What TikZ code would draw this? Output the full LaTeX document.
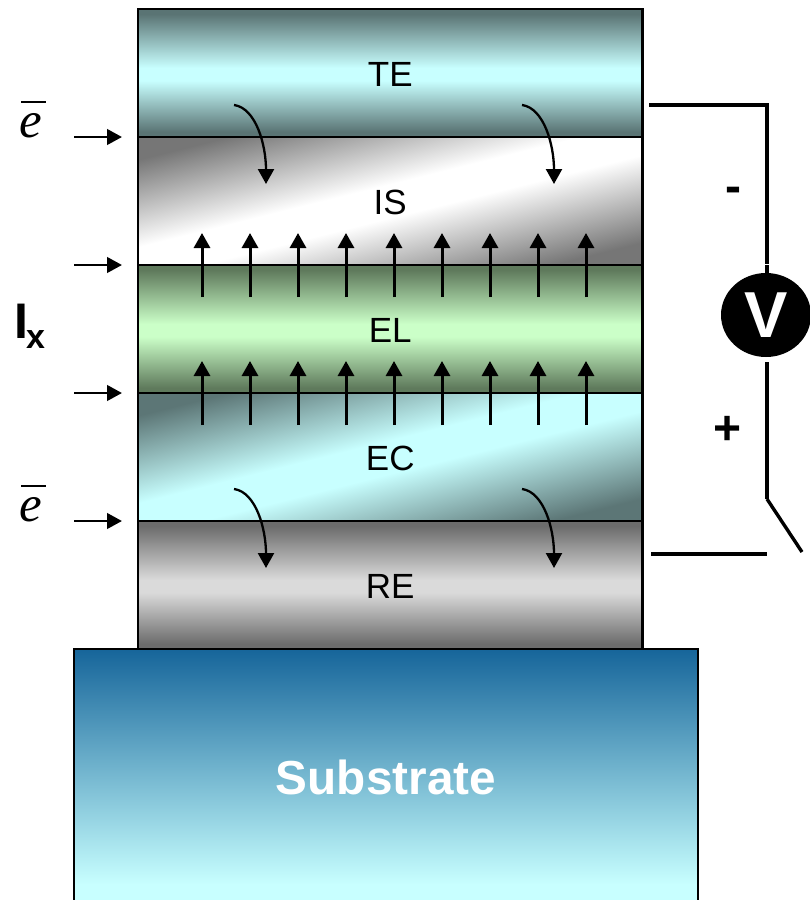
\documentclass[tikz,border=0pt]{standalone}
\usepackage{fontspec}
\setmainfont{Liberation Sans}
\newfontfamily\timesit{Liberation Serif}
\usetikzlibrary{arrows.meta,shapes.geometric}
\newcommand{\fs}[1]{\fontsize{#1}{#1}\selectfont}
\newcommand{\lbl}[1]{\raisebox{-1.5pt}[\height][0pt]{#1}}
\definecolor{tedark}{HTML}{5A7474}
\definecolor{tecyan}{HTML}{C8FFFF}
\definecolor{eldark}{HTML}{5F7A5C}
\definecolor{elgreen}{HTML}{CBFFC8}
\definecolor{regray}{HTML}{6C6C6C}
\definecolor{relight}{HTML}{DADADA}
\definecolor{isgray}{HTML}{767676}
\definecolor{ecdark}{HTML}{5C7676}
\definecolor{subblue}{HTML}{16659A}
\pgfdeclareverticalshading{teshade}{100bp}{color(0bp)=(tedark); color(27bp)=(tedark); color(47bp)=(tecyan); color(52bp)=(tecyan); color(73bp)=(tedark); color(100bp)=(tedark)}
\pgfdeclareverticalshading{elshade}{100bp}{color(0bp)=(eldark); color(27bp)=(eldark); color(47bp)=(elgreen); color(52bp)=(elgreen); color(73bp)=(eldark); color(100bp)=(eldark)}
\pgfdeclareverticalshading{reshade}{100bp}{color(0bp)=(regray); color(27bp)=(regray); color(47bp)=(relight); color(52bp)=(relight); color(73bp)=(regray); color(100bp)=(regray)}
\pgfdeclareverticalshading{isshade}{100bp}{color(0bp)=(isgray); color(25bp)=(isgray); color(46bp)=(white); color(54bp)=(white); color(75bp)=(isgray); color(100bp)=(isgray)}
\pgfdeclareverticalshading{ecshade}{100bp}{color(0bp)=(ecdark); color(25bp)=(ecdark); color(46bp)=(tecyan); color(54bp)=(tecyan); color(75bp)=(ecdark); color(100bp)=(ecdark)}
\pgfdeclareverticalshading{subshade}{100bp}{color(0bp)=(tecyan); color(29bp)=(tecyan); color(75bp)=(subblue); color(100bp)=(subblue)}
\tikzset{
  x=1pt,y=-1pt,
  layerbox/.style={draw=black,line width=2.6pt,minimum width=504.5pt,minimum height=128pt,outer sep=0pt,inner sep=0pt,font=\fs{35}},
  flatlayer/.style={layerbox,shading=#1},
  slanted/.style={layerbox,shading=#1,shading angle=14},
  wire/.style={line width=4pt},
  flowarrow/.style={line width=3pt,-{Triangle[length=15pt,width=16pt]}},
  injectarrow/.style={line width=2.8pt,-{Triangle[length=15pt,width=15.5pt]}},
  curvearrow/.style={line width=2.3pt,-{Triangle[length=15pt,width=16pt]}},
  signtext/.style={font=\bfseries\fs{48},inner sep=0pt},
  electext/.style={font=\timesit\itshape\fs{51},inner sep=0pt},
  ebar/.style={line width=2.2pt},
}
\begin{document}
\begin{tikzpicture}
\useasboundingbox (0,0) rectangle (810,900);
\node[draw=black,line width=2.6pt,minimum width=624pt,minimum height=256pt,outer sep=0pt,inner sep=0pt,
  shading=subshade,text=white,font=\bfseries\fs{47.7}] (sub) at (386,777) {Substrate};
\node[flatlayer=teshade] (te) at (390.25,73) {\lbl{TE}};
\node[slanted=isshade] (is) at (390.25,201) {\lbl{IS}};
\node[flatlayer=elshade] (el) at (390.25,329) {\lbl{EL}};
\node[slanted=ecshade] (ec) at (390.25,457) {\lbl{EC}};
\node[flatlayer=reshade] (re) at (390.25,585) {\lbl{RE}};
% left injection arrows
\foreach \n/\yy in {1/137,2/265,3/393,4/521}{
  \coordinate (in\n) at (74,\yy);
  \coordinate (to\n) at (122,\yy);
  \draw[injectarrow] (in\n) -- (to\n);
}
% up arrows
\foreach \xx [count=\i] in {202,250,298,346,394,442,490,538,586}{
  \coordinate (ua\i) at (\xx,297); \coordinate (ub\i) at (\xx,233);
  \coordinate (la\i) at (\xx,425); \coordinate (lb\i) at (\xx,361);
  \draw[flowarrow] (ua\i) -- (ub\i);
  \draw[flowarrow] (la\i) -- (lb\i);
}
% curved arrows
\foreach \n/\xx/\yy in {a/234/105,b/522/105,c/234/489,d/522/489}{
  \coordinate (cs\n) at (\xx,\yy);
  \coordinate (ce\n) at (\xx+32,\yy+79);
  \draw[curvearrow] (cs\n) .. controls (\xx+22,\yy+3) and (\xx+32,\yy+40) .. (ce\n);
}
% electrons
\node[electext] (e1) at (31,126) {e};
\node[electext] (e2) at (31,510) {e};
\draw[ebar] (21,102) -- (46,102);
\draw[ebar] (21,486) -- (46,486);
% Ix
\node[inner sep=0pt,anchor=base west,font=\bfseries\fs{50}] (ix) at (14,338) {I};
\node[inner sep=0pt,anchor=base west,font=\bfseries\fs{34}] (ixs) at (26,348) {x};
% circuit
\node[ellipse,fill=black,minimum width=90pt,minimum height=84pt,inner sep=0pt,outer sep=0pt,text=white,font=\bfseries\fs{65}] (vm) at (766,315) {V};
\coordinate (w1) at (649,105);
\coordinate (w2) at (767,105);
\coordinate (w3) at (767,263.5);
\coordinate (w4) at (767,265);
\coordinate (w5) at (767,280);
\coordinate (w7) at (767,362);
\coordinate (w8) at (767,499);
\coordinate (w9) at (802,552);
\coordinate (w10) at (651,554);
\coordinate (w11) at (767,554);
\draw[wire,line join=miter] (w1) -- (w2) -- (w3);
\draw[wire] (w4) -- (w5);
\draw[wire] (w7) -- (w8);
\draw[line width=3.4pt] (w8) -- (w9);
\draw[wire] (w10) -- (w11);
\node[signtext] (minus) at (733,195) {-};
\node[signtext] (plus) at (728,430.5) {+};
\end{tikzpicture}
\end{document}
